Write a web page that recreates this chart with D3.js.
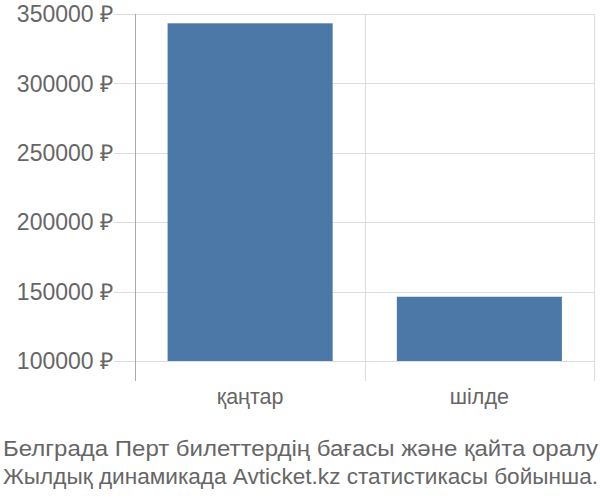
<!DOCTYPE html>
<html>
<head>
<meta charset="utf-8">
<script src="https://cdn.jsdelivr.net/npm/d3@7"></script>
<style>
  html, body { margin: 0; padding: 0; background: #fff; }
  svg text { font-family: "Liberation Sans", Arial, sans-serif; fill: #666; }
</style>
</head>
<body>
<svg id="chart" width="600" height="500"></svg>
<script>
const categories = ["қаңтар", "шілде"];
const values = [343300, 146300];
const yTicks = [100000, 150000, 200000, 250000, 300000, 350000];
const captionLines = [
  "Белграда Перт билеттердің бағасы және қайта оралу",
  "Жылдық динамикада Avticket.kz статистикасы бойынша."
];

(function () {
const svg = d3.select("#chart");
const mLeft = 135.5, mRight = 594, mTop = 14, mBottom = 361;

const x = d3.scaleBand().domain(categories).range([mLeft, mRight]).paddingInner(0.28).paddingOuter(0.14);
const xGrid = d3.scaleBand().domain(categories).range([mLeft, mRight]);
const y = d3.scaleLinear().domain([100000, 350000]).range([mBottom, mTop]);

svg.append("g").selectAll("line").data(yTicks).join("line")
  .attr("x1", 114).attr("x2", mRight)
  .attr("y1", d => Math.round(y(d)) + 0.5).attr("y2", d => Math.round(y(d)) + 0.5)
  .attr("stroke", "#ddd").attr("stroke-width", 1);

svg.append("g").selectAll("line").data(categories).join("line")
  .attr("x1", d => Math.round(xGrid(d) + xGrid.bandwidth()) + 0.5)
  .attr("x2", d => Math.round(xGrid(d) + xGrid.bandwidth()) + 0.5)
  .attr("y1", mTop).attr("y2", 381)
  .attr("stroke", "#ddd").attr("stroke-width", 1);

svg.append("g").selectAll("rect").data(categories).join("rect")
  .attr("x", d => x(d))
  .attr("width", x.bandwidth())
  .attr("y", (d, i) => y(values[i]))
  .attr("height", (d, i) => y(100000) - y(values[i]))
  .attr("fill", "#4c78a8");

svg.append("line")
  .attr("x1", 135.5).attr("x2", 135.5).attr("y1", mTop).attr("y2", 381)
  .attr("stroke", "#aaa").attr("stroke-width", 1);

svg.append("g").selectAll("text").data(yTicks).join("text")
  .attr("x", 113).attr("y", d => y(d))
  .attr("dy", "0.36em")
  .attr("text-anchor", "end")
  .style("font-size", "23px")
  .text(d => d + " ₽");

svg.append("g").selectAll("text").data(categories).join("text")
  .attr("x", d => xGrid(d) + xGrid.bandwidth() / 2)
  .attr("y", 404)
  .attr("text-anchor", "middle")
  .style("font-size", "21.5px")
  .text(d => d);

svg.append("g").selectAll("text").data(captionLines).join("text")
  .attr("x", 3)
  .attr("y", (d, i) => 456 + i * 28)
  .attr("text-anchor", "start")
  .attr("textLength", 595)
  .attr("lengthAdjust", "spacingAndGlyphs")
  .style("font-size", "21.5px")
  .text(d => d);
})();
</script>
</body>
</html>
